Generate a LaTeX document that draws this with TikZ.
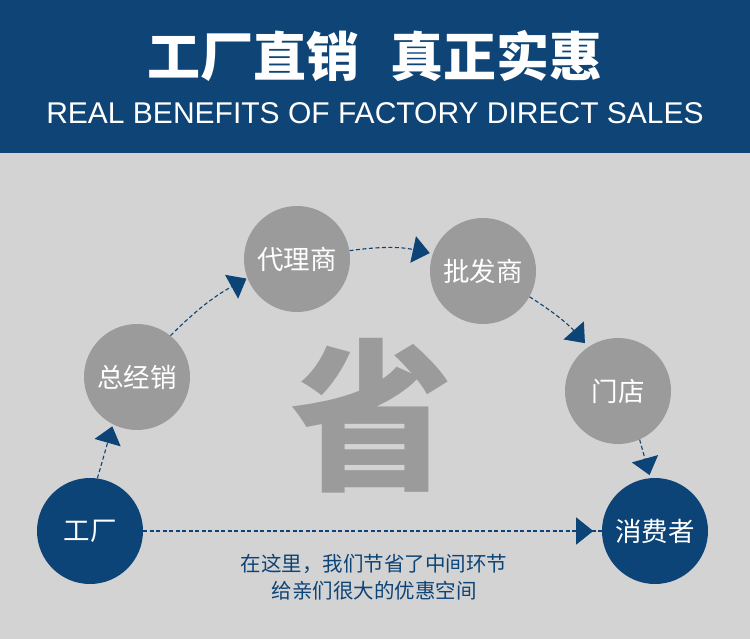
\documentclass[tikz,border=0pt]{standalone}
\usepackage{fontspec}
\setmainfont{Liberation Sans}
\newfontfamily\cjk{Noto Sans CJK SC}
\usetikzlibrary{arrows.meta,decorations.markings}
\definecolor{cbg}{HTML}{D3D3D3}
\definecolor{cgray}{HTML}{9B9B9B}
\definecolor{cblue}{HTML}{0D4477}
\definecolor{chead}{HTML}{0E4476}
\begin{document}
\begin{tikzpicture}[x=1pt,y=-1pt,
  circ/.style={circle, minimum size=106pt, inner sep=0pt, text=white, font=\cjk\fontsize{26.5}{26.5}\selectfont},
  gcirc/.style={circ, fill=cgray},
  bcirc/.style={circ, fill=cblue},
  flowline/.style={draw=cblue, line width=1.1pt, dash pattern=on 4pt off 2.5pt},
  flow/.style={flowline, -{Triangle[length=17pt,width=27pt]}},
]
\useasboundingbox (0,0) rectangle (750,639);
\fill[cbg] (0,0) rectangle (750,639);
\fill[chead] (0,0) rectangle (750,153);
\node[text=white, font=\cjk\bfseries\fontsize{53}{53}\selectfont] (title) at (375,56) {工厂直销\hspace{0.6em}真正实惠};
\node[text=white, font=\fontsize{30}{30}\selectfont] (sub) at (375,113) {REAL BENEFITS OF FACTORY DIRECT SALES};
\node[text=cgray, font=\cjk\bfseries\fontsize{163}{163}\selectfont, inner sep=0pt] (sheng) at (372,416) {省};
\node[bcirc] (gc) at (90,531) {工厂};
\node[gcirc] (zjx) at (137,377) {总经销};
\node[gcirc] (dls) at (297,259) {代理商};
\node[gcirc] (pfs) at (483,271) {批发商};
\node[gcirc] (md) at (618,391) {门店};
\node[bcirc] (xfz) at (655,531) {消费者};
\node[text=cblue, font=\cjk\fontsize{20.5}{27}\selectfont, align=center] (note) at (374,577) {在这里，我们节省了中间环节\\给亲们很大的优惠空间};
\draw[flow, shorten >=2pt] (gc.82) -- (zjx.243);
\draw[flow, shorten >=1pt] (zjx.51) to[bend left=8] (dls.201);
\draw[flow, shorten >=3pt] (dls.9) to[bend left=10] (pfs.161);
\draw[flow, shorten >=5pt] (pfs.-29) to[bend left=8] (md.124);
\draw[flow, shorten >=3pt] (md.-66) -- (xfz.95);
\draw[flowline, postaction={decorate}, decoration={markings, mark=at position 450pt with {\pgfsetdash{}{0pt}\arrow[cblue]{Triangle[length=17pt,width=27pt]}}}] (gc.east) -- (xfz.west);
\end{tikzpicture}
\end{document}
